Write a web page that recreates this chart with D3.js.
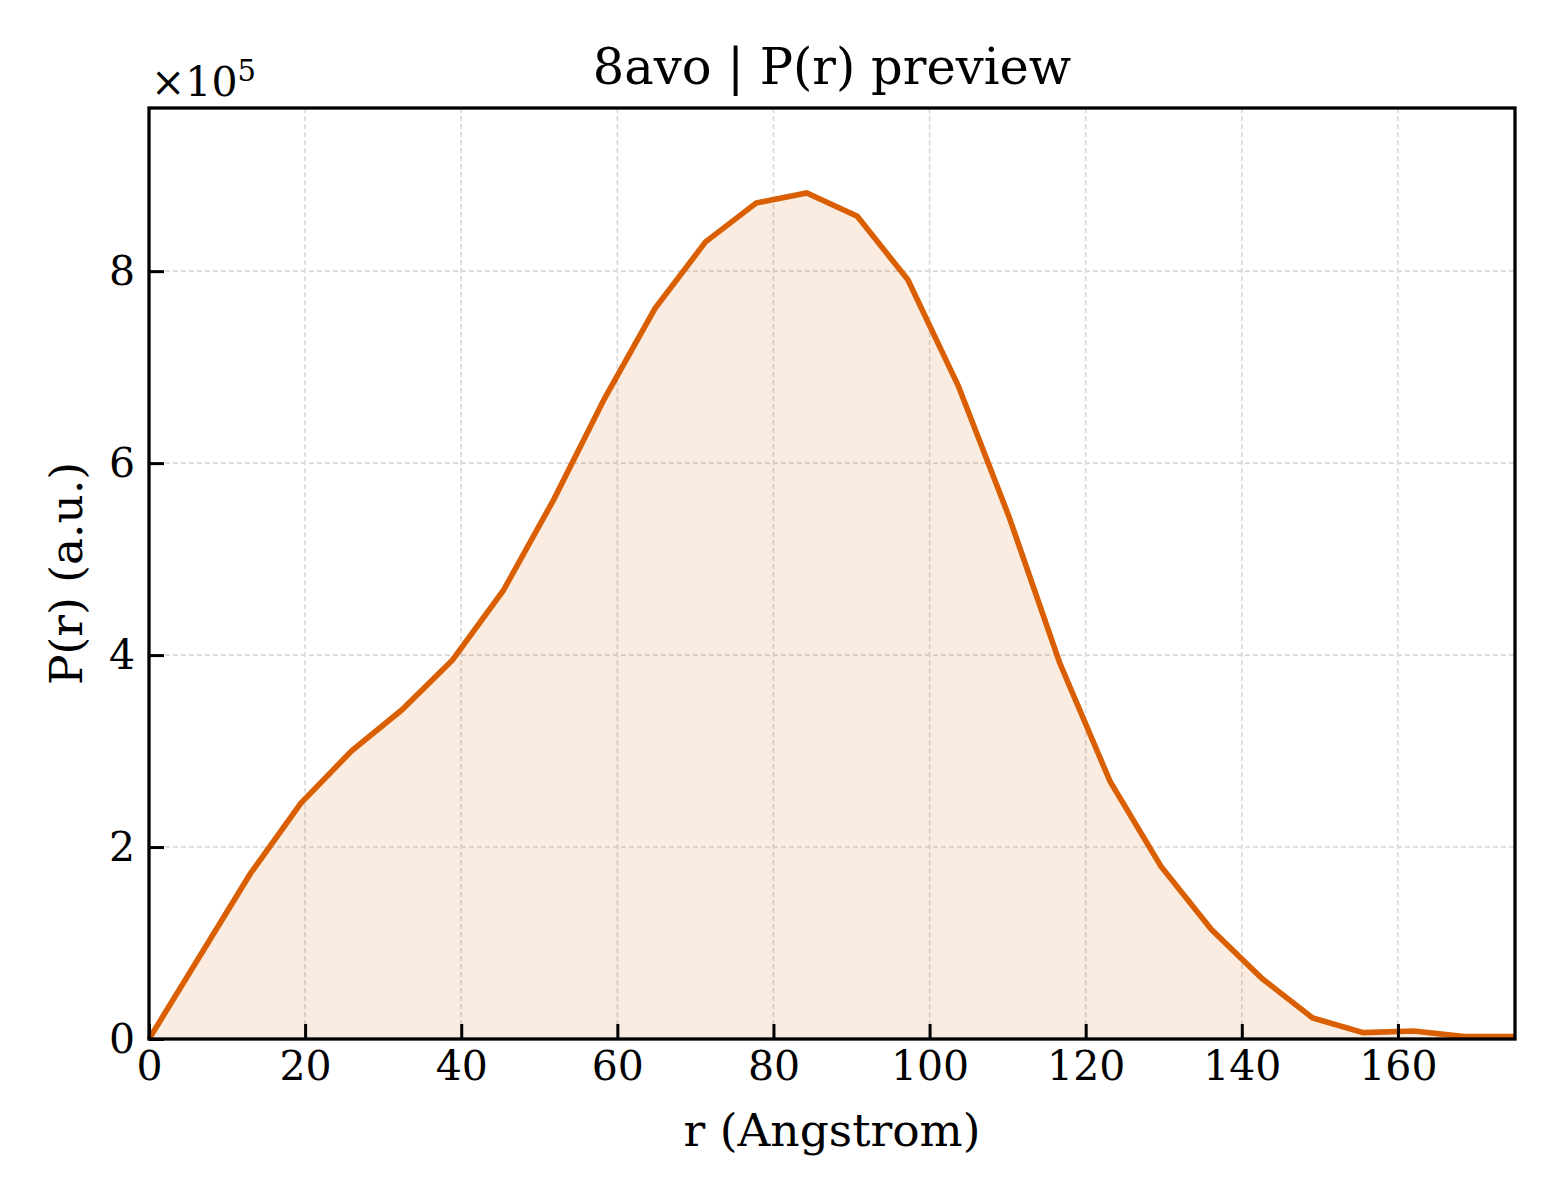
<!DOCTYPE html>
<html>
<head>
<meta charset="utf-8">
<script src="https://cdn.jsdelivr.net/npm/d3@7"></script>
<style>
  body { margin: 0; background: #fff; }
  svg text { font-family: "DejaVu Serif", serif; fill: #000; }
</style>
</head>
<body>
<div id="chart"></div>
<script>
// P(r) samples (r in Angstrom, P in a.u.)
const rStep = 175 / 27;
const pValues = [
    0, 86000, 172000, 245500, 300000, 343000, 395000, 467000, 562000, 667000,
    761000, 830500, 871000, 881500, 857300, 791000, 680000, 544000, 392000, 268000,
    180000, 114000, 63000, 22000, 6600, 8300, 2500, 2500
];
const rValues = pValues.map((_, i) => i * rStep);
const xTicks = [0, 20, 40, 60, 80, 100, 120, 140, 160];
const yTicks = [0, 200000, 400000, 600000, 800000];

const width = 1560, height = 1200;
const margin = { top: 108, right: 45, bottom: 161, left: 149 };
const innerW = width - margin.left - margin.right;
const innerH = height - margin.top - margin.bottom;
const lineColor = "#d95f02";

const svg = d3.select("#chart").append("svg")
    .attr("width", width)
    .attr("height", height);

const g = svg.append("g")
    .attr("transform", `translate(${margin.left},${margin.top})`);

const x = d3.scaleLinear().domain([0, 175]).range([0, innerW]);
const y = d3.scaleLinear().domain([0, 970000]).range([innerH, 0]);

const points = rValues.map((r, i) => ({ r: r, p: pValues[i] }));

// grid
g.append("g").selectAll("line")
    .data(xTicks.filter(d => d > 0))
    .enter().append("line")
    .attr("x1", d => x(d)).attr("x2", d => x(d))
    .attr("y1", 0).attr("y2", innerH)
    .attr("stroke", "#d8d8d8")
    .attr("stroke-width", 1.6)
    .attr("stroke-dasharray", "5,3");

g.append("g").selectAll("line")
    .data(yTicks.filter(d => d > 0))
    .enter().append("line")
    .attr("x1", 0).attr("x2", innerW)
    .attr("y1", d => y(d)).attr("y2", d => y(d))
    .attr("stroke", "#d8d8d8")
    .attr("stroke-width", 1.6)
    .attr("stroke-dasharray", "5,3");

// filled area + curve
const area = d3.area()
    .x(d => x(d.r))
    .y0(y(0))
    .y1(d => y(d.p));

const line = d3.line()
    .x(d => x(d.r))
    .y(d => y(d.p));

g.append("path")
    .datum(points)
    .attr("d", area)
    .attr("fill", lineColor)
    .attr("fill-opacity", 0.12);

g.append("path")
    .datum(points)
    .attr("d", line)
    .attr("fill", "none")
    .attr("stroke", lineColor)
    .attr("stroke-width", 5.6)
    .attr("stroke-linejoin", "miter");

// axes, ticks pointing in
const xAxis = d3.axisBottom(x)
    .tickValues(xTicks)
    .tickSizeInner(-15)
    .tickSizeOuter(0)
    .tickPadding(12)
    .tickFormat(d3.format("d"));

const yAxis = d3.axisLeft(y)
    .tickValues(yTicks)
    .tickSizeInner(-15)
    .tickSizeOuter(0)
    .tickPadding(14)
    .tickFormat(d => d / 100000);

const gx = g.append("g")
    .attr("transform", `translate(0,${innerH})`)
    .call(xAxis);
const gy = g.append("g").call(yAxis);

[gx, gy].forEach(ax => {
    ax.select(".domain").remove();
    ax.selectAll(".tick line").attr("stroke", "#000").attr("stroke-width", 3);
    ax.selectAll(".tick text")
        .attr("font-size", 41)
        .attr("font-family", "DejaVu Serif");
});

// frame
g.append("rect")
    .attr("x", 0).attr("y", 0)
    .attr("width", innerW).attr("height", innerH)
    .attr("fill", "none")
    .attr("stroke", "#000")
    .attr("stroke-width", 3.3);

// labels
svg.append("text")
    .attr("x", margin.left + innerW / 2)
    .attr("y", 84)
    .attr("text-anchor", "middle")
    .attr("font-size", 49.5)
    .text("8avo | P(r) preview");

svg.append("text")
    .attr("x", margin.left + innerW / 2)
    .attr("y", 1146)
    .attr("text-anchor", "middle")
    .attr("font-size", 45.5)
    .text("r (Angstrom)");

svg.append("text")
    .attr("transform", `translate(82,${margin.top + innerH / 2}) rotate(-90)`)
    .attr("text-anchor", "middle")
    .attr("font-size", 45.5)
    .text("P(r) (a.u.)");

const offset = svg.append("text")
    .attr("x", 151)
    .attr("y", 96)
    .attr("font-size", 41);
offset.append("tspan").text("×10");
offset.append("tspan")
    .attr("font-size", 29)
    .attr("dy", -15)
    .text("5");
</script>
</body>
</html>
